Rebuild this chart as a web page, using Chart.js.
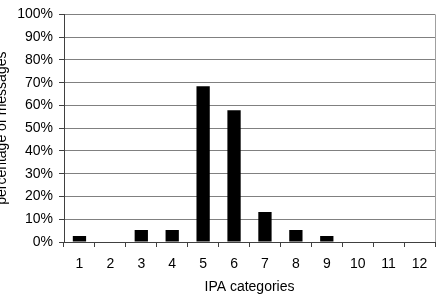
<!DOCTYPE html>
<html lang="en">
<head>
    <meta charset="UTF-8">
    <title>IPA categories</title>
    <script src="https://cdn.jsdelivr.net/npm/chart.js"></script>
    <style>
        html, body { margin: 0; padding: 0; background: #fff; }
        #wrap { width: 438px; height: 296px; }
    </style>
</head>
<body>
    <div id="wrap"><canvas id="myChart" width="438" height="296"></canvas></div>

    <script>
        // data
        var categories = ['1', '2', '3', '4', '5', '6', '7', '8', '9', '10', '11', '12'];
        var percentages = [2.6, 0, 5.3, 5.3, 68.4, 57.9, 13.2, 5.3, 2.6, 0, 0, 0];
        var yTicks = [0, 10, 20, 30, 40, 50, 60, 70, 80, 90, 100];

        // right frame line of the plot area
        var rightBorder = {
            id: 'rightBorder',
            afterDraw: function (chart) {
                var a = chart.chartArea, c = chart.ctx;
                c.save();
                c.strokeStyle = '#a0a0a0';
                c.lineWidth = 1;
                c.beginPath();
                c.moveTo(Math.round(a.right) + 0.5, a.top);
                c.lineTo(Math.round(a.right) + 0.5, a.bottom);
                c.stroke();
                c.restore();
            }
        };

        var ctx = document.getElementById('myChart').getContext('2d');
        var myChart = new Chart(ctx, {
            type: 'bar',
            data: {
                labels: categories,
                datasets: [{
                    data: percentages,
                    backgroundColor: '#000',
                    borderWidth: 0,
                    categoryPercentage: 1,
                    barPercentage: 0.43
                }]
            },
            options: {
                responsive: false,
                animation: false,
                layout: { padding: { left: 0, right: 3, top: 11, bottom: 0 } },
                plugins: { legend: { display: false }, tooltip: { enabled: false } },
                scales: {
                    x: {
                        offset: true,
                        afterFit: function (s) { s.height = 54; },
                        grid: {
                            offset: true,
                            drawOnChartArea: false,
                            drawTicks: true,
                            tickLength: 5,
                            color: '#404040'
                        },
                        border: { color: '#404040' },
                        ticks: {
                            color: '#000',
                            padding: 9,
                            maxRotation: 0,
                            font: { family: 'Liberation Sans', size: 14 }
                        },
                        title: {
                            display: true,
                            text: 'IPA categories',
                            color: '#000',
                            padding: { top: 0, bottom: 0 },
                            font: { family: 'Liberation Sans', size: 14 }
                        }
                    },
                    y: {
                        min: 0,
                        max: 100,
                        afterFit: function (s) { s.width = 64; },
                        afterBuildTicks: function (s) {
                            s.ticks = yTicks.map(function (v) { return { value: v }; });
                        },
                        grid: {
                            color: '#808080',
                            tickColor: '#404040',
                            tickLength: 5
                        },
                        border: { color: '#404040' },
                        ticks: {
                            color: '#000',
                            padding: 6,
                            font: { family: 'Liberation Sans', size: 14 },
                            callback: function (v) { return v + '%'; }
                        },
                        title: {
                            display: true,
                            text: 'percentage of messages',
                            color: '#000',
                            padding: { top: -6, bottom: 0 },
                            font: { family: 'Liberation Sans', size: 14 }
                        }
                    }
                }
            },
            plugins: [rightBorder]
        });
    </script>
</body>
</html>
